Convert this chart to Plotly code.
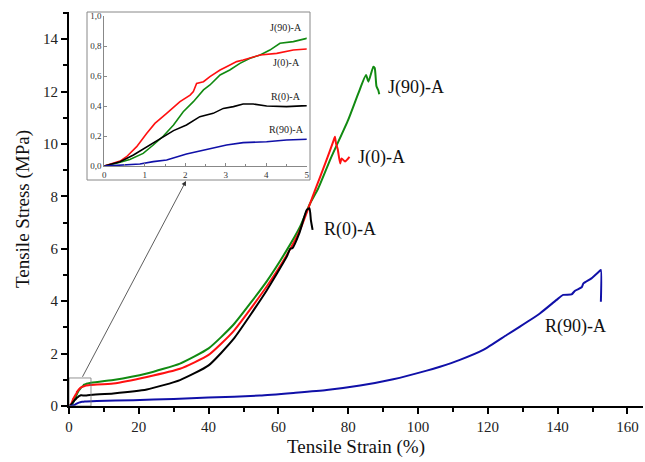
import plotly.graph_objects as go

# ---------------- data ----------------
j90_strain = [0, 0.3, 0.63, 0.96, 1.21, 1.46, 1.71, 1.95, 2.2, 2.45, 2.61, 2.86, 3.1, 3.35, 3.6, 3.85, 4.09, 4.34, 4.67, 5.0,
              6, 12.7, 22.3, 31.8, 40, 47.1, 56.6, 62.4, 66.2, 69.1, 71.4, 75, 80, 82.9, 85.1, 85.8, 87.2, 87.6, 88.1, 88.6, 88.9]
j90_stress = [0, 0.018, 0.044, 0.084, 0.14, 0.2, 0.273, 0.362, 0.429, 0.507, 0.54, 0.607, 0.64, 0.684, 0.718, 0.74, 0.773, 0.818, 0.829, 0.851,
              0.88, 0.99, 1.24, 1.62, 2.2, 3.1, 4.75, 5.95, 6.84, 7.74, 8.3, 9.45, 10.92, 11.93, 12.63, 12.38, 12.95, 12.9, 12.2, 12.06, 11.9]

j0_strain = [0, 0.22, 0.39, 0.55, 0.8, 1.05, 1.25, 1.54, 1.87, 2.12, 2.2, 2.28, 2.45, 2.61, 2.86, 3.02, 3.27, 3.43, 3.85, 4.26, 4.67, 5.0,
             6, 12.7, 22.3, 31.8, 40, 47.1, 56.6, 62.4, 66.2, 70.5, 73.8, 75.7, 76.2, 76.5, 77, 77.7, 78.1, 79.1, 80, 80.4]
j0_stress = [0, 0.018, 0.033, 0.062, 0.129, 0.218, 0.284, 0.351, 0.429, 0.473, 0.496, 0.551, 0.562, 0.596, 0.64, 0.662, 0.696, 0.707, 0.74, 0.751, 0.773, 0.78,
             0.8, 0.86, 1.11, 1.42, 1.95, 2.85, 4.55, 5.76, 6.72, 8.24, 9.39, 10.09, 10.28, 10.03, 9.8, 9.26, 9.45, 9.33, 9.45, 9.5]

r0_strain = [0, 0.39, 0.72, 1.05, 1.38, 1.71, 2.03, 2.36, 2.69, 2.94, 3.19, 3.43, 3.68, 4.01, 4.5, 5.0,
             6, 12.7, 22.3, 31.8, 40, 47.1, 56.6, 62.4, 63.4, 64, 66, 68.1, 68.9, 69.3, 69.8]
r0_stress = [0, 0.029, 0.073, 0.129, 0.184, 0.236, 0.273, 0.329, 0.351, 0.384, 0.396, 0.413, 0.413, 0.4, 0.396, 0.402,
             0.42, 0.48, 0.63, 0.99, 1.55, 2.55, 4.4, 5.7, 6.0, 6.02, 6.6, 7.48, 7.55, 7.1, 6.72]

r90_strain = [0, 0.55, 0.88, 1.21, 1.54, 2.03, 2.53, 3.02, 3.43, 4.01, 4.5, 5.0,
              8, 18.4, 30, 39.9, 54.7, 64.3, 73.8, 83.4, 92.9, 102.5, 106.3, 112, 118.7, 125.4, 129.2, 135, 139.7,
              141.6, 144, 145, 146.9, 147.4, 149.7, 151.9, 152.4, 152.4]
r90_stress = [0, 0.007, 0.013, 0.029, 0.04, 0.08, 0.111, 0.14, 0.156, 0.162, 0.173, 0.173,
              0.19, 0.22, 0.27, 0.32, 0.4, 0.5, 0.61, 0.78, 1.02, 1.35, 1.5, 1.76, 2.14, 2.71, 3.03, 3.54, 4.05,
              4.24, 4.26, 4.4, 4.53, 4.68, 4.87, 5.13, 5.19, 3.98]

series_names = ["J(90)-A", "J(0)-A", "R(0)-A", "R(90)-A"]
series_colors = ["#118a11", "#ff1010", "#000000", "#1010a8"]

main_label_x = [99.4, 89.6, 80.5, 145.2]
main_label_y = [12.14, 9.47, 6.72, 3.02]
inset_label_x = [4.5, 4.5, 4.5, 4.5]
inset_label_y = [0.92, 0.69, 0.46, 0.24]

x_ticks = [0, 20, 40, 60, 80, 100, 120, 140, 160]
y_ticks = [0, 2, 4, 6, 8, 10, 12, 14]
inset_x_ticks = [0, 1, 2, 3, 4, 5]
inset_y_ticks = [0.0, 0.2, 0.4, 0.6, 0.8, 1.0]
inset_y_text = ["0,0", "0,2", "0,4", "0,6", "0,8", "1,0"]

strains = [j90_strain, j0_strain, r0_strain, r90_strain]
stresses = [j90_stress, j0_stress, r0_stress, r90_stress]

FONT = "Liberation Serif"

fig = go.Figure()

# main traces
for xs, ys, name, col in zip(strains, stresses, series_names, series_colors):
    fig.add_trace(go.Scatter(x=xs, y=ys, mode="lines", name=name,
                             line=dict(color=col, width=2, shape="spline", smoothing=0.5),
                             xaxis="x", yaxis="y", showlegend=False))

# inset traces
for xs, ys, name, col in zip(strains, stresses, series_names, series_colors):
    fig.add_trace(go.Scatter(x=xs, y=ys, mode="lines", name=name,
                             line=dict(color=col, width=1.6), xaxis="x2", yaxis="y2",
                             showlegend=False))

W, H = 645, 462
ml, mr, mt, mb = 69, 2, 12, 56
pw, ph = W - ml - mr, H - mt - mb

def px_x(p):
    return (p - ml) / pw

def px_y(p):
    return (H - mb - p) / ph

annotations = []
for name, x, y in zip(series_names, main_label_x, main_label_y):
    annotations.append(dict(x=x, y=y, xref="x", yref="y", text=name, showarrow=False,
                            font=dict(family=FONT, size=18, color="#111")))
for name, x, y in zip(series_names, inset_label_x, inset_label_y):
    annotations.append(dict(x=x, y=y, xref="x2", yref="y2", text=name, showarrow=False,
                            font=dict(family=FONT, size=10, color="#222")))

# arrow from zoom box to inset
annotations.append(dict(x=px_x(186), y=px_y(181), xref="paper", yref="paper",
                        ax=81.7 - 186, ay=378.3 - 181, axref="pixel", ayref="pixel",
                        text="", showarrow=True, arrowhead=2, arrowsize=1.2, arrowwidth=0.8,
                        arrowcolor="#333"))

shapes = [
    dict(type="rect", xref="paper", yref="paper", x0=px_x(87), x1=px_x(310), y0=px_y(180), y1=px_y(12),
         line=dict(color="#888", width=1), fillcolor="rgba(0,0,0,0)", layer="below"),
    dict(type="rect", xref="x", yref="y", x0=0, x1=6.3, y0=0, y1=1.07,
         line=dict(color="#777", width=0.8), fillcolor="rgba(0,0,0,0)"),
]

fig.update_layout(
    width=W, height=H,
    margin=dict(l=ml, r=mr, t=mt, b=mb, autoexpand=False),
    paper_bgcolor="white", plot_bgcolor="white",
    font=dict(family=FONT, color="#111"),
    annotations=annotations, shapes=shapes,
    xaxis=dict(range=[0, pw / 3.49], domain=[0, 1], tickvals=x_ticks,
               showline=True, linecolor="black", linewidth=2, mirror=False,
               ticks="outside", ticklen=6, tickwidth=2, tickcolor="black",
               minor=dict(dtick=10, tick0=0, ticks="outside", ticklen=4, tickwidth=1.5, tickcolor="black", showgrid=False),
               showgrid=False, zeroline=False, automargin=False,
               tickfont=dict(family=FONT, size=15, color="#222"),
               title=dict(text="Tensile Strain (%)", font=dict(family=FONT, size=19, color="#111"), standoff=6)),
    yaxis=dict(range=[0, ph / 26.2], domain=[0, 1], tickvals=y_ticks,
               showline=True, linecolor="black", linewidth=2, mirror=False,
               ticks="outside", ticklen=6, tickwidth=2, tickcolor="black",
               minor=dict(dtick=1, tick0=0, ticks="outside", ticklen=4, tickwidth=1.5, tickcolor="black", showgrid=False),
               showgrid=False, zeroline=False, automargin=False,
               tickfont=dict(family=FONT, size=15, color="#222"),
               title=dict(text="Tensile Stress (MPa)", font=dict(family=FONT, size=19, color="#111"), standoff=8)),
    xaxis2=dict(domain=[px_x(104.3), px_x(306.7)], range=[0, 5], anchor="y2",
                tickvals=inset_x_ticks, showline=True, linecolor="#888", linewidth=1,
                ticks="inside", ticklen=3, tickwidth=1, tickcolor="#888",
                minor=dict(dtick=0.5, ticks="inside", ticklen=2, tickcolor="#888", showgrid=False),
                showgrid=False, zeroline=False,
                tickfont=dict(family=FONT, size=9, color="#333")),
    yaxis2=dict(domain=[px_y(166), px_y(16)], range=[0, 1], anchor="x2",
                tickvals=inset_y_ticks, ticktext=inset_y_text,
                showline=True, linecolor="#888", linewidth=1,
                ticks="inside", ticklen=3, tickwidth=1, tickcolor="#888",
                showgrid=False, zeroline=False,
                tickfont=dict(family=FONT, size=9, color="#333")),
)

fig.write_html("out.html", config={"displayModeBar": False},
               post_script="document.body.style.margin='0';")
